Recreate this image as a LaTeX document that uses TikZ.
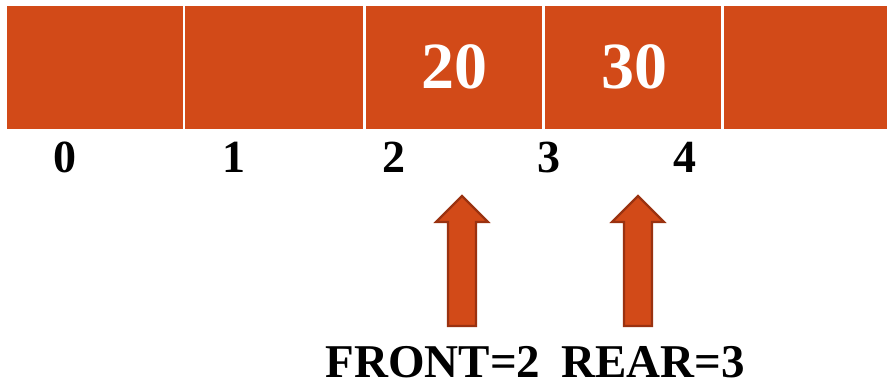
\documentclass[tikz,border=0pt]{standalone}
\usepackage{fontspec}
\setmainfont{Liberation Serif}
\begin{document}
\begin{tikzpicture}[x=1pt,y=-1pt,
  cell/.style={fill=qorange,inner sep=0pt,anchor=north west,minimum height=123pt},
  valtext/.style={text=white,font=\fontsize{66}{66}\selectfont\bfseries,anchor=base,inner sep=0pt},
  idxtext/.style={font=\fontsize{46}{46}\selectfont\bfseries,anchor=base,inner sep=0pt},
  ptrtext/.style={font=\fontsize{47}{47}\selectfont\bfseries,anchor=base,inner sep=0pt,text depth=0pt},
  blockarrow/.style={fill=qorange,draw=qdark,line width=2.2pt,line join=miter}]
\definecolor{qorange}{HTML}{D24A18}
\definecolor{qdark}{HTML}{9A3210}
\useasboundingbox (0,0) rectangle (887,385);
% array cells
\node[cell,minimum width=176pt] (c0) at (7,6) {};
\node[cell,minimum width=178pt] (c1) at (185,6) {};
\node[cell,minimum width=176pt] (c2) at (366,6) {};
\node[cell,minimum width=176pt] (c3) at (545,6) {};
\node[cell,minimum width=170pt] (c4) at (724,6) {};
% stored values
\node[valtext] (v2) at (454,89) {20};
\node[valtext] (v3) at (634,89) {30};
% indices
\node[idxtext] (i0) at (65,173) {0};
\node[idxtext] (i1) at (234,173) {1};
\node[idxtext] (i2) at (394,173) {2};
\node[idxtext] (i3) at (549,173) {3};
\node[idxtext] (i4) at (685,173) {4};
% pointer arrows
\draw[blockarrow] (448,326) -- (448,222) -- (436,222) -- (462,196) -- (488,222) -- (476,222) -- (476,326) -- cycle;
\draw[blockarrow] (624,326) -- (624,222) -- (612,222) -- (638,196) -- (664,222) -- (652,222) -- (652,326) -- cycle;
% pointer labels
\node[ptrtext] (front) at (433,377) {FRONT=2};
\node[ptrtext] (rear) at (653,377) {REAR=3};
\end{tikzpicture}
\end{document}
